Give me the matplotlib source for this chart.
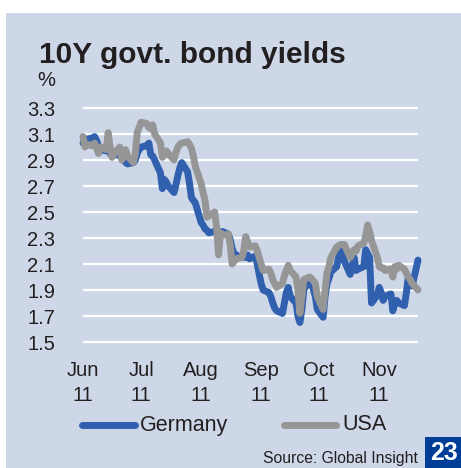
import numpy as np
import pandas as pd
import matplotlib
matplotlib.use("Agg")
import matplotlib.pyplot as plt
import matplotlib.dates as mdates
from matplotlib.lines import Line2D
from matplotlib.patches import Rectangle

plt.rcParams['font.family'] = ['Liberation Sans', 'DejaVu Sans']

# daily closes, business days from 1 Jun 2011
dates = pd.bdate_range("2011-06-01", periods=124)

germany = [
    3.03, 3.05, 3.06, 3.07, 3.08, 3.05, 3.01, 2.98, 2.97, 2.99,
    2.95, 2.94, 2.96, 2.93, 2.94, 2.91, 2.88, 2.87, 2.88, 2.90,
    2.95, 2.98, 3.00, 3.01, 3.03, 2.94, 2.93, 2.90, 2.80, 2.68,
    2.75, 2.73, 2.70, 2.65, 2.71, 2.78, 2.84, 2.88, 2.81, 2.72,
    2.61, 2.59, 2.57, 2.42, 2.40, 2.37, 2.36, 2.34, 2.35, 2.36,
    2.35, 2.34, 2.35, 2.33, 2.29, 2.22, 2.18, 2.17, 2.15, 2.16,
    2.15, 2.17, 2.14, 2.16, 2.10, 2.02, 1.95, 1.90, 1.88, 1.85,
    1.80, 1.76, 1.74, 1.72, 1.80, 1.88, 1.92, 1.85, 1.80, 1.70,
    1.65, 1.75, 1.90, 1.98, 1.95, 1.90, 1.85, 1.75, 1.69, 1.85,
    1.95, 1.99, 2.04, 2.08, 2.15, 2.20, 2.23, 2.12, 2.02, 2.08,
    2.15, 2.05, 2.06, 2.08, 2.21, 2.18, 2.15, 1.80, 1.86, 1.92,
    1.88, 1.82, 1.85, 1.87, 1.74, 1.80, 1.82, 1.80, 1.78, 1.88,
    2.00, 1.96, 1.93, 2.13,
]

usa = [
    3.08, 3.00, 3.02, 3.01, 3.03, 2.99, 2.95, 3.00, 2.98, 3.11,
    3.00, 2.92, 2.95, 3.00, 2.90, 2.93, 2.98, 2.93, 2.88, 2.95,
    3.11, 3.15, 3.19, 3.18, 3.15, 3.14, 3.17, 3.10, 3.03, 2.92,
    2.94, 2.97, 2.95, 2.90, 2.96, 3.00, 3.02, 3.03, 3.04, 3.02,
    2.99, 2.93, 2.85, 2.72, 2.65, 2.59, 2.46, 2.47, 2.50, 2.38,
    2.17, 2.34, 2.32, 2.33, 2.25, 2.10, 2.12, 2.14, 2.15, 2.20,
    2.31, 2.27, 2.23, 2.24, 2.20, 2.15, 2.10, 2.05, 2.06, 2.03,
    1.98, 1.95, 1.92, 1.95, 2.01, 2.05, 2.09, 2.05, 2.00, 1.90,
    1.72, 1.85, 1.98, 2.00, 1.99, 1.97, 1.95, 1.85, 1.75, 1.90,
    2.03, 2.08, 2.15, 2.23, 2.24, 2.25, 2.25, 2.25, 2.15, 2.18,
    2.21, 2.20, 2.24, 2.26, 2.32, 2.40, 2.35, 2.28, 2.15, 2.08,
    2.07, 2.07, 2.05, 2.06, 2.00, 2.08, 2.06, 2.09, 2.06, 2.03,
    2.00, 1.98, 1.95, 1.90,
]

yticks = [1.5, 1.7, 1.9, 2.1, 2.3, 2.5, 2.7, 2.9, 3.1, 3.3]
months = ["2011-06-01", "2011-07-01", "2011-08-01", "2011-09-01", "2011-10-01", "2011-11-01"]
month_labels = ["Jun\n11", "Jul\n11", "Aug\n11", "Sep\n11", "Oct\n11", "Nov\n11"]

panel = "#CDD7E8"
blue = "#3060AE"
grey = "#969696"
ink = "#231F20"

W, H = 461, 468
fig = plt.figure(figsize=(W / 100, H / 100), dpi=100, facecolor="white")

# blue background panel
fig.add_artist(Rectangle((6 / W, 0), 1 - 6 / W, 1 - 13 / H,
                         transform=fig.transFigure, facecolor=panel,
                         edgecolor="none", zorder=0))

ax = fig.add_axes([83 / W, (H - 348.5) / H, 335 / W, 247 / H])
ax.set_facecolor("none")
for s in ax.spines.values():
    s.set_visible(False)

ax.plot(dates, germany, color=blue, lw=5, solid_capstyle="round",
        solid_joinstyle="round", clip_on=False, zorder=3)
ax.plot(dates, usa, color=grey, lw=5, solid_capstyle="round",
        solid_joinstyle="round", clip_on=False, zorder=4)

ax.set_ylim(1.45, 3.35)
ax.set_yticks(yticks)
ax.set_yticklabels([f"{v:.1f}" for v in yticks], fontsize=14.5, color=ink)
ax.yaxis.grid(True, color="white", lw=1.6)
ax.set_axisbelow(True)

ax.set_xlim(pd.Timestamp("2011-06-01"), pd.Timestamp("2011-11-21"))
ax.set_xticks([mdates.date2num(pd.Timestamp(m)) for m in months])
ax.set_xticklabels(month_labels, fontsize=14.5, color=ink, linespacing=1.4)
ax.tick_params(axis="both", length=0)
ax.tick_params(axis="y", pad=20)
ax.tick_params(axis="x", pad=9)

fig.text(39 / W, 1 - 63 / H, "10Y govt. bond yields", fontsize=21.5,
         fontweight="bold", color=ink, ha="left", va="baseline")
fig.text(37 / W, 1 - 86 / H, "%", fontsize=14.5, color=ink,
         ha="left", va="baseline")

# legend
ly = 1 - 425 / H
fig.add_artist(Line2D([82 / W, 135 / W], [ly, ly], color=blue, lw=5,
                      solid_capstyle="round", transform=fig.transFigure))
fig.text(140 / W, ly, "Germany", fontsize=15.5, color=ink,
         ha="left", va="center")
fig.add_artist(Line2D([284 / W, 336 / W], [ly, ly], color=grey, lw=5,
                      solid_capstyle="round", transform=fig.transFigure))
fig.text(342 / W, ly, "USA", fontsize=15.5, color=ink,
         ha="left", va="center")

fig.text(418 / W, 1 - 463 / H, "Source: Global Insight", fontsize=11.3,
         color=ink, ha="right", va="baseline")

fig.add_artist(Rectangle((425 / W, 0), 1 - 425 / W, 31 / H,
                         transform=fig.transFigure, facecolor="#003D96",
                         edgecolor="none", zorder=1))
fig.text(443.5 / W, 1 - 453 / H, "23", fontsize=18, fontweight="bold",
         color="white", ha="center", va="center")

fig.savefig("out.png", dpi=100, facecolor="white")
